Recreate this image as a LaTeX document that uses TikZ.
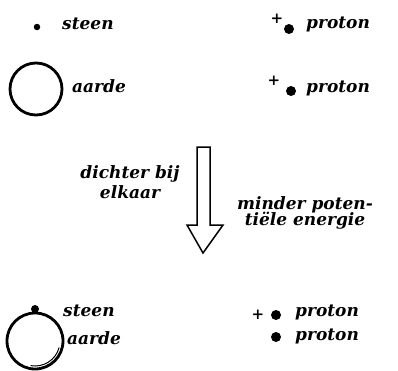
\documentclass[tikz,border=0pt]{standalone}
\usepackage{fontspec}
\newfontfamily\hand{DejaVu Serif}
\begin{document}
\begin{tikzpicture}[x=1pt,y=-1pt,
  lbl/.style={anchor=west, inner sep=0pt, font=\hand\bfseries\itshape\fontsize{17}{17}\selectfont},
  plus/.style={inner sep=0pt, font=\hand\bfseries\fontsize{15}{15}\selectfont},
  pdot/.style={circle, fill=black, inner sep=0pt, minimum size=10pt},
  sdot/.style={circle, fill=black, inner sep=0pt, minimum size=6.5pt},
  earth/.style={circle, draw=black, line width=2.8pt, inner sep=0pt}]
\useasboundingbox (0,0) rectangle (398,370);
% row 1
\node[sdot] (s1) at (37,27) {};
\node[lbl] (t1) at (62,24) {steen};
\node[plus] (p1) at (277,19) {+};
\node[pdot] (d1) at (289,29) {};
\node[lbl] (t2) at (306,24) {proton};
% row 2
\node[earth, minimum size=52pt] (e1) at (36,89) {};
\node[lbl] (t3) at (72,86) {aarde};
\node[plus] (p2) at (274,81) {+};
\node[pdot] (d2) at (291,91) {};
\node[lbl] (t4) at (306,88) {proton};
% arrow
\draw[line width=1.5pt, line join=miter] (197,147) -- (210,147) -- (210,225) -- (223,225)
  -- (203,253) -- (187,225) -- (197,225) -- cycle;
\node[lbl, anchor=center, align=center] (a1) at (130,182) {dichter bij\\[3pt]elkaar};
\node[lbl, anchor=center, align=center] (a2) at (305,213) {minder poten-\\[-1pt]tiële energie};
% bottom
\node[earth, minimum size=56pt] (e2) at (35,341) {};
\draw[line width=1pt] (e2.center) ++(15:25) arc (15:100:25);
\node[sdot, minimum size=8pt] (s2) at (35,309) {};
\node[lbl] (t5) at (63,311) {steen};
\node[lbl] (t6) at (67,338) {aarde};
\node[plus] (p3) at (258,315) {+};
\node[pdot] (d3) at (276,315) {};
\node[lbl] (t7) at (295,312) {proton};
\node[pdot] (d4) at (276,337) {};
\node[lbl] (t8) at (295,336) {proton};
\end{tikzpicture}
\end{document}
